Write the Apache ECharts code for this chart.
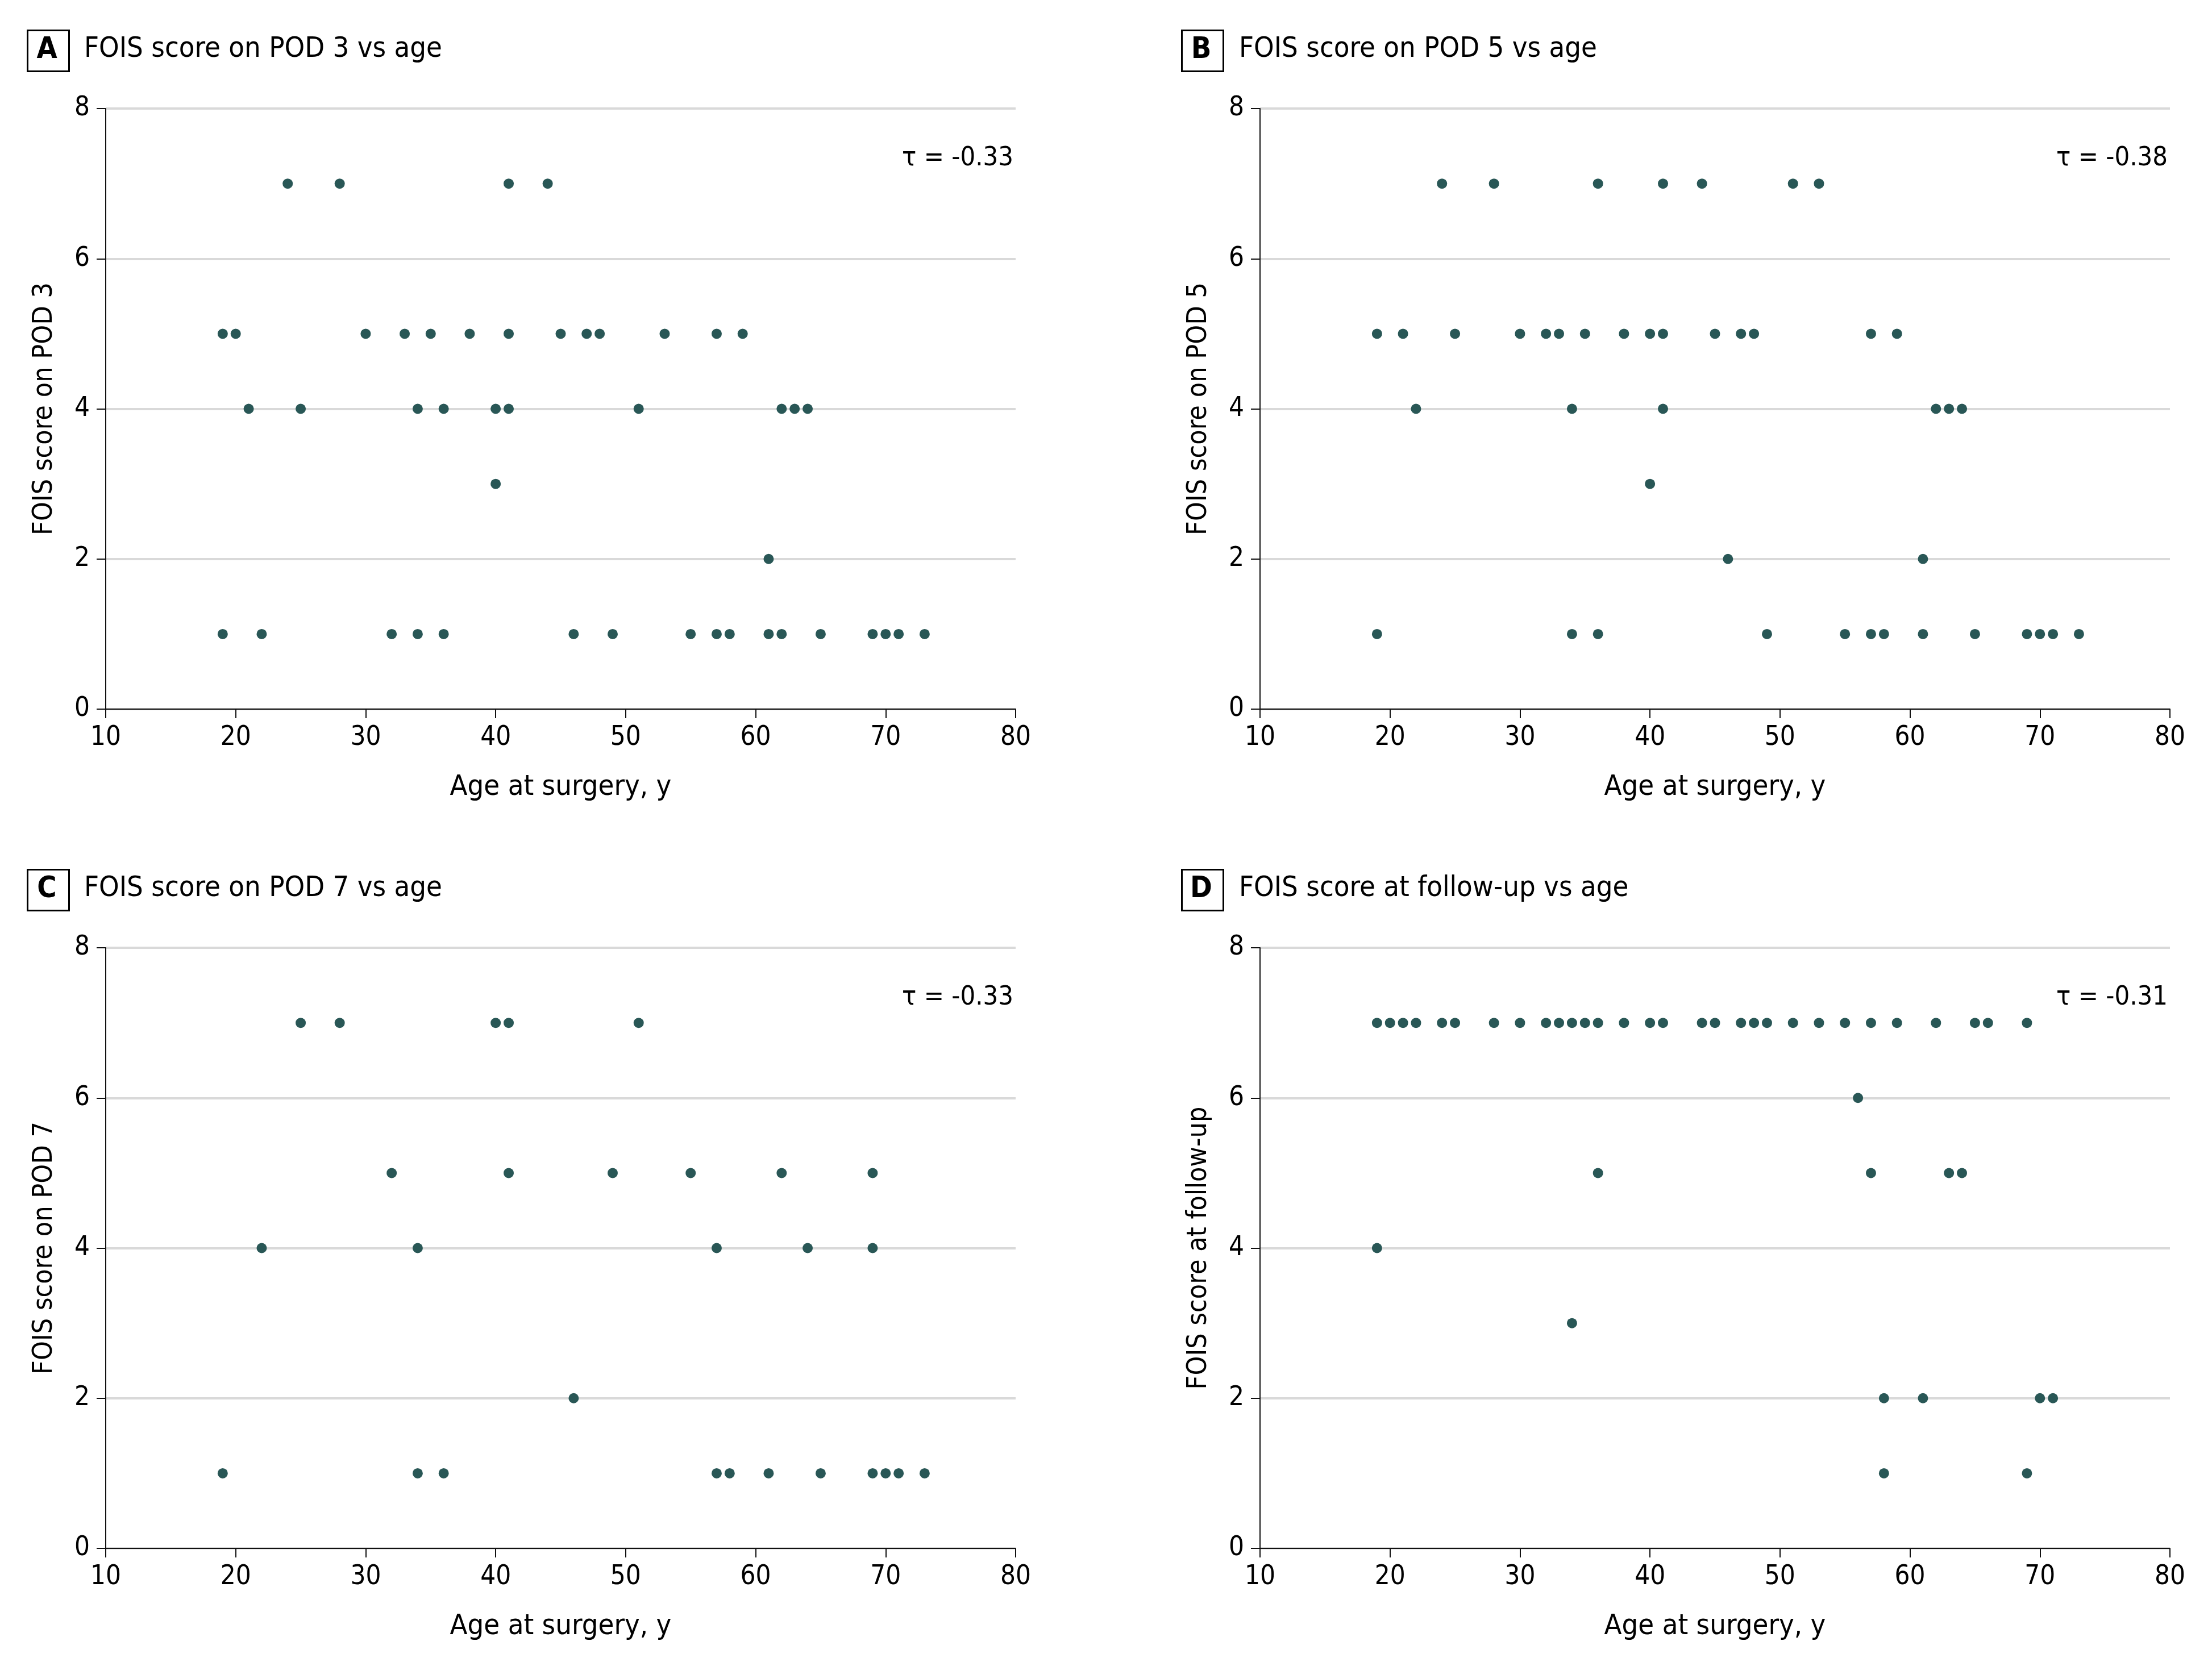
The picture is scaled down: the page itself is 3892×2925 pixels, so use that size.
<!DOCTYPE html>
<html>
<head>
<meta charset="utf-8">
<script src="https://cdn.jsdelivr.net/npm/echarts@6/dist/echarts.min.js"></script>
<style>
html,body{margin:0;padding:0;background:#fff;}
#chart{width:3892px;height:2925px;}
</style>
</head>
<body>
<div id="chart"></div>
<script>
// ---- Data (age at surgery, FOIS score) ----
const ageA   = [24,28,41,44, 19,20,30,33,35,38,41,45,47,48,53,57,59, 21,25,34,36,40,41,51,62,63,64, 40, 61, 19,22,32,34,36,46,49,55,57,58,61,62,65,69,70,71,73];
const scoreA = [7,7,7,7, 5,5,5,5,5,5,5,5,5,5,5,5,5, 4,4,4,4,4,4,4,4,4,4, 3, 2, 1,1,1,1,1,1,1,1,1,1,1,1,1,1,1,1,1];

const ageB   = [24,28,36,41,44,51,53, 19,21,25,30,32,33,35,38,40,41,45,47,48,57,59, 22,34,41,62,63,64, 40, 46,61, 19,34,36,49,55,57,58,61,65,69,70,71,73];
const scoreB = [7,7,7,7,7,7,7, 5,5,5,5,5,5,5,5,5,5,5,5,5,5,5, 4,4,4,4,4,4, 3, 2,2, 1,1,1,1,1,1,1,1,1,1,1,1,1];

const ageC   = [25,28,40,41,51, 32,41,49,55,62,69, 22,34,57,64,69, 46, 19,34,36,57,58,61,65,69,70,71,73];
const scoreC = [7,7,7,7,7, 5,5,5,5,5,5, 4,4,4,4,4, 2, 1,1,1,1,1,1,1,1,1,1,1];

const ageD   = [19,20,21,22,24,25,28,30,32,33,34,35,36,38,40,41,44,45,47,48,49,51,53,55,57,59,62,65,66,69, 56, 36,57,63,64, 19, 34, 58,61,70,71, 58,69];
const scoreD = [7,7,7,7,7,7,7,7,7,7,7,7,7,7,7,7,7,7,7,7,7,7,7,7,7,7,7,7,7,7, 6, 5,5,5,5, 4, 3, 2,2,2,2, 1,1];

const panelLetters = ['A','B','C','D'];
const panelTitles  = ['FOIS score on POD 3 vs age','FOIS score on POD 5 vs age','FOIS score on POD 7 vs age','FOIS score at follow-up vs age'];
const yNames       = ['FOIS score on POD 3','FOIS score on POD 5','FOIS score on POD 7','FOIS score at follow-up'];
const tauLabels    = ['τ = -0.33','τ = -0.38','τ = -0.33','τ = -0.31'];
const xName        = 'Age at surgery, y';

const ages   = [ageA, ageB, ageC, ageD];
const scores = [scoreA, scoreB, scoreC, scoreD];

// ---- Font selection: prefer a condensed face if installed ----
const cv = document.createElement('canvas').getContext('2d');
function w(txt, fam, size) { cv.font = size + 'px ' + fam; return cv.measureText(txt).width; }
function has(name) {
  const s = 'abcdefghijklmnopqrstuvwxyz0123456789 FOIS';
  return w(s, '"' + name + '", monospace', 100) !== w(s, 'monospace', 100) ||
         w(s, '"' + name + '", serif', 100) !== w(s, 'serif', 100);
}
const candidates = ['Liberation Sans Narrow', 'DejaVu Sans Condensed', 'Roboto Condensed', 'Open Sans Condensed', 'Liberation Sans'];
let picked = 'Liberation Sans';
for (const c of candidates) { if (has(c)) { picked = c; break; } }
const FONT = '"' + picked + '", sans-serif';
// size each text so its width roughly matches the reference's measured width, capped in height
function fit(txt, targetW, maxSize) { return Math.min(maxSize, 100 * targetW / w(txt, FONT, 100)); }
const titleSize = fit('FOIS score on POD 3 vs age', 630, 54);
const yNameSize = fit('FOIS score on POD 3', 445, 52);
const xNameSize = fit('Age at surgery, y', 390, 52);
const tickSize  = fit('10', 54, 51);
const tauSize   = fit('τ = -0.33', 196, 52);

// ---- Layout ----
const gridLeft = [186, 2217, 186, 2217];
const gridTop  = [191, 191, 1668, 1668];
const gridW = 1601, gridH = 1057;
const boxLeft = [46, 2077, 46, 2077];
const boxTop  = [51, 51, 1528, 1528];
const titleLeft = [148, 2180, 148, 2180];

const grids = [], xAxes = [], yAxes = [], series = [], graphics = [];
for (let i = 0; i < 4; i++) {
  grids.push({left: gridLeft[i], top: gridTop[i], width: gridW, height: gridH, containLabel: false});
  xAxes.push({
    type: 'value', gridIndex: i, min: 10, max: 80, interval: 10,
    name: xName, nameLocation: 'middle', nameGap: Math.round(134 - 0.42 * xNameSize),
    nameTextStyle: {fontFamily: FONT, fontSize: xNameSize, color: '#000'},
    axisLine: {show: true, onZero: false, lineStyle: {color: '#111', width: 2}},
    axisTick: {show: true, length: 16, lineStyle: {color: '#111', width: 2}},
    axisLabel: {fontFamily: FONT, fontSize: tickSize, color: '#000', margin: 27},
    splitLine: {show: false}
  });
  yAxes.push({
    type: 'value', gridIndex: i, min: 0, max: 8, interval: 2,
    name: yNames[i], nameLocation: 'middle', nameGap: Math.round(112 - 0.6 * yNameSize),
    nameTextStyle: {fontFamily: FONT, fontSize: yNameSize, color: '#000'},
    axisLine: {show: true, lineStyle: {color: '#111', width: 2}},
    axisTick: {show: true, length: 16, lineStyle: {color: '#111', width: 2}},
    axisLabel: {fontFamily: FONT, fontSize: tickSize, color: '#000', margin: 28},
    splitLine: {show: true, lineStyle: {color: '#d9d9d9', width: 4}}
  });
  series.push({
    type: 'scatter', xAxisIndex: i, yAxisIndex: i,
    data: ages[i].map((a, k) => [a, scores[i][k]]),
    symbol: 'circle', symbolSize: 18,
    itemStyle: {color: '#295756', opacity: 1},
    silent: true, z: 5
  });
  graphics.push({
    type: 'rect', left: boxLeft[i], top: boxTop[i],
    shape: {width: 73, height: 72},
    style: {fill: 'none', stroke: '#000', lineWidth: 3}
  });
  graphics.push({
    type: 'text', x: boxLeft[i] + 36.5, y: boxTop[i] + 37,
    style: {text: panelLetters[i], fontFamily: FONT, fontSize: Math.min(52, titleSize + 2), fontWeight: 'bold', fill: '#000', textAlign: 'center', textVerticalAlign: 'middle'}
  });
  graphics.push({
    type: 'text', x: titleLeft[i], y: boxTop[i] + 36,
    style: {text: panelTitles[i], fontFamily: FONT, fontSize: titleSize, fill: '#000', textAlign: 'left', textVerticalAlign: 'middle'}
  });
  graphics.push({
    type: 'text', x: gridLeft[i] + gridW - 4, y: gridTop[i] + 88,
    style: {text: tauLabels[i], fontFamily: FONT, fontSize: tauSize, fill: '#000', textAlign: 'right', textVerticalAlign: 'middle'}
  });
}

const chart = echarts.init(document.getElementById('chart'), null, {renderer: 'canvas', width: 3892, height: 2925});
chart.setOption({
  backgroundColor: '#fff',
  animation: false,
  grid: grids,
  xAxis: xAxes,
  yAxis: yAxes,
  series: series,
  graphic: graphics
});
</script>
</body>
</html>
